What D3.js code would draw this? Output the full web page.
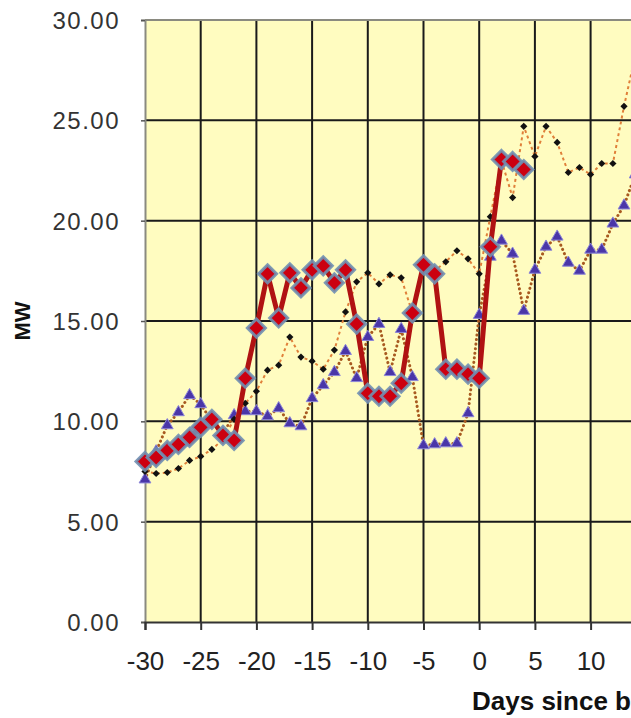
<!DOCTYPE html>
<html>
<head>
<meta charset="utf-8">
<script src="https://cdn.jsdelivr.net/npm/d3@7"></script>
<style>
html,body{margin:0;padding:0;background:#fff;overflow:hidden;}
svg{display:block;}
</style>
</head>
<body>
<svg id="chart" width="631" height="718"></svg>
<script>
// ---- data ----
const redDays = [-30,-29,-28,-27,-26,-25,-24,-23,-22,-21,-20,-19,-18,-17,-16,-15,-14,-13,-12,-11,-10,-9,-8,-7,-6,-5,-4,-3,-2,-1,0,1,2,3,4];
const redValues = [8.0,8.2,8.55,8.85,9.2,9.7,10.1,9.3,9.05,12.15,14.65,17.35,15.15,17.4,16.65,17.55,17.75,16.9,17.55,14.85,11.4,11.25,11.25,11.9,15.4,17.8,17.35,12.6,12.6,12.35,12.15,18.7,23.05,22.95,22.55];

const allDays = [-30,-29,-28,-27,-26,-25,-24,-23,-22,-21,-20,-19,-18,-17,-16,-15,-14,-13,-12,-11,-10,-9,-8,-7,-6,-5,-4,-3,-2,-1,0,1,2,3,4,5,6,7,8,9,10,11,12,13,14];
const blackValues = [7.5,7.4,7.45,7.65,8.05,8.25,8.6,9.1,10.1,10.9,11.5,12.55,12.8,14.2,13.2,13.0,12.6,13.55,15.45,16.95,17.4,16.85,17.3,17.15,15.4,17.6,17.5,17.95,18.5,18.1,17.35,20.2,23.0,21.15,24.7,23.2,24.7,23.9,22.4,22.65,22.3,22.85,22.85,25.7,28.2];
const blueValues = [7.1,8.5,9.8,10.45,11.3,10.85,10.0,9.4,10.3,10.5,10.5,10.25,10.65,9.9,9.75,11.15,11.8,12.45,13.5,12.15,14.2,14.85,12.45,14.6,12.2,8.8,8.85,8.9,8.9,10.4,15.3,18.2,19.0,18.35,15.5,17.55,18.7,19.2,17.9,17.5,18.55,18.55,19.85,20.75,22.3];

const xTicks = [-30,-25,-20,-15,-10,-5,0,5,10];
const xGrid = [-25,-20,-15,-10,-5,0,5,10,15];
const yTicks = [0,5,10,15,20,25,30];
const yLabel = "MW";
const xLabel = "Days since b";

// ---- layout ----
const svg = d3.select("#chart");
const mLeft = 145, mTop = 20, mBottom = 622;
const x = d3.scaleLinear().domain([-30, 30]).range([mLeft, mLeft + 60 * 11.14]);
const y = d3.scaleLinear().domain([0, 30]).range([mBottom, mTop]);
const mRight = x(30);
const FONT = "'Liberation Sans', Arial, sans-serif";

// plot background
svg.append("rect").attr("x", mLeft).attr("y", mTop).attr("width", mRight - mLeft).attr("height", mBottom - mTop)
  .attr("fill", "#FFFCC0");

// grid lines
svg.append("g").selectAll("line").data(xGrid).join("line")
  .attr("x1", d => x(d)).attr("x2", d => x(d)).attr("y1", mTop).attr("y2", mBottom)
  .attr("stroke", "#1a1a1a").attr("stroke-width", 2);
svg.append("g").selectAll("line").data(yTicks.filter(d => d > 0 && d < 30)).join("line")
  .attr("x1", mLeft).attr("x2", mRight).attr("y1", d => y(d)).attr("y2", d => y(d))
  .attr("stroke", "#1a1a1a").attr("stroke-width", 2);
// top border
svg.append("line").attr("x1", mLeft).attr("x2", mRight).attr("y1", y(30)).attr("y2", y(30))
  .attr("stroke", "#8a8a80").attr("stroke-width", 2);

// y axis
const yAxis = svg.append("g").attr("transform", `translate(${mLeft},0)`)
  .call(d3.axisLeft(y).tickValues(yTicks).tickFormat(d => d.toFixed(2)).tickSize(4).tickPadding(21));
yAxis.select(".domain").attr("stroke", "#8a8a80").attr("stroke-width", 2);
yAxis.selectAll(".tick line").attr("stroke", "#555").attr("stroke-width", 1.5);
yAxis.selectAll("text").style("font-family", FONT).style("font-size", "24px")
  .attr("fill", "#333").style("letter-spacing", "1.5px").attr("dy", "0.36em");

// x axis
const xAxis = svg.append("g").attr("transform", `translate(0,${mBottom})`)
  .call(d3.axisBottom(x).tickValues(xTicks).tickFormat(d => String(d)).tickSize(8).tickPadding(22));
xAxis.select(".domain").attr("stroke", "#333").attr("stroke-width", 2);
xAxis.selectAll(".tick line").attr("stroke", "#333").attr("stroke-width", 2);
xAxis.selectAll("text").style("font-family", FONT).style("font-size", "26px")
  .attr("fill", "#222");
// tick mark at 15 (label lies outside the visible area)
svg.append("line").attr("x1", x(15)).attr("x2", x(15)).attr("y1", mBottom).attr("y2", mBottom + 8)
  .attr("stroke", "#333").attr("stroke-width", 2);

// axis titles
svg.append("text").attr("transform", `translate(30,${(mTop + mBottom) / 2}) rotate(-90)`)
  .attr("text-anchor", "middle").style("font-family", FONT)
  .style("font-weight", "bold").style("font-size", "22px").attr("fill", "#111").text(yLabel);
svg.append("text").attr("x", 472).attr("y", 710)
  .style("font-family", FONT)
  .style("font-weight", "bold").style("font-size", "26px").attr("fill", "#111").text(xLabel);

const line = d3.line().x(d => x(d[0])).y(d => y(d[1]));
const blueData = allDays.map((d, i) => [d, blueValues[i]]);
const blackData = allDays.map((d, i) => [d, blackValues[i]]);
const redData = redDays.map((d, i) => [d, redValues[i]]);

// blue triangles series
svg.append("path").datum(blueData).attr("d", line).attr("fill", "none")
  .attr("stroke", "#A85A20").attr("stroke-width", 3).attr("stroke-dasharray", "0.1,4.5").attr("stroke-linecap", "round");
svg.append("g").selectAll("path").data(blueData).join("path")
  .attr("transform", d => `translate(${x(d[0])},${y(d[1])})`)
  .attr("d", d3.symbol(d3.symbolTriangle, 60))
  .attr("fill", "#4A36A8").attr("stroke", "#8C86D8").attr("stroke-width", 1);

// black dots series
svg.append("path").datum(blackData).attr("d", line).attr("fill", "none")
  .attr("stroke", "#E0803A").attr("stroke-width", 2).attr("stroke-dasharray", "3,3");
svg.append("g").selectAll("path").data(blackData).join("path")
  .attr("transform", d => `translate(${x(d[0])},${y(d[1])})`)
  .attr("d", "M0,-3.6L3.6,0L0,3.6L-3.6,0Z")
  .attr("fill", "#111");

// red diamond series
svg.append("path").datum(redData).attr("d", line).attr("fill", "none")
  .attr("stroke", "#B01212").attr("stroke-width", 5).attr("stroke-linejoin", "round");
svg.append("g").selectAll("path").data(redData).join("path")
  .attr("transform", d => `translate(${x(d[0])},${y(d[1])})`)
  .attr("d", "M0,-9L9,0L0,9L-9,0Z")
  .attr("fill", "#CC0010").attr("stroke", "#7090B2").attr("stroke-width", 3).attr("stroke-opacity", 0.9);
</script>
</body>
</html>
